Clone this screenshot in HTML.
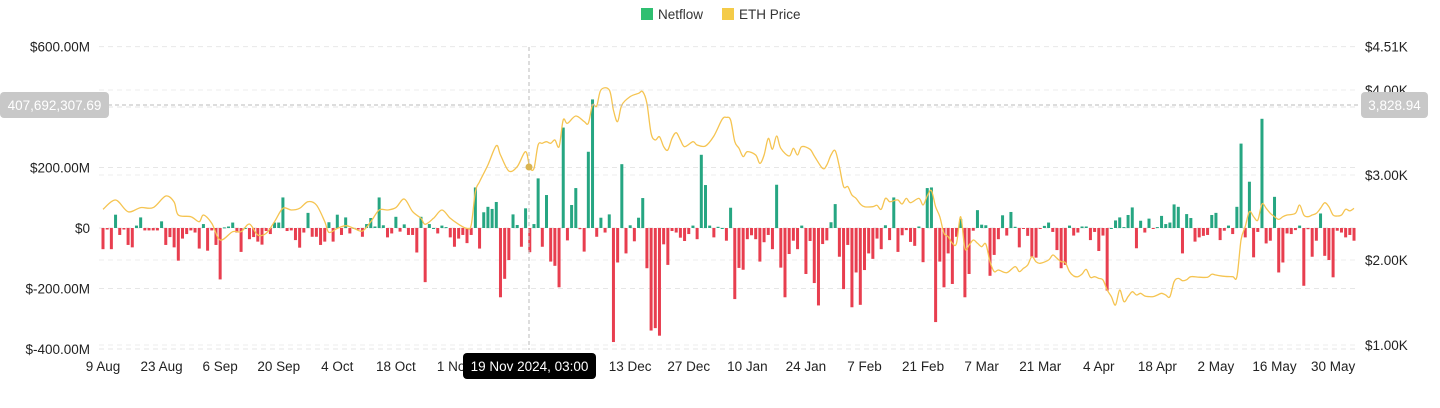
<!DOCTYPE html>
<html><head><meta charset="utf-8"><style>
html,body{margin:0;padding:0;background:#fff;width:1440px;height:408px;overflow:hidden}
svg{display:block;font-family:"Liberation Sans","DejaVu Sans",sans-serif}
</style></head><body>
<svg id="chart" width="1440" height="408">
 <g>
  <g><rect x="641" y="8" width="12" height="12" fill="#2fbf71"/><text x="658" y="19" font-size="13.5" fill="#333">Netflow</text></g>
  <g><rect x="722" y="8" width="12" height="12" fill="#f0b90b" opacity="0.75"/><text x="739" y="19" font-size="13.5" fill="#333">ETH Price</text></g>
 </g>
 <g id="grid"></g>
 <g id="yl"></g>
 <g id="yr"></g>
 <g id="bars"></g>
 <path id="line" fill="none" stroke="#f5c451" stroke-width="1.3"/>
 <g id="xa"></g>
 <g>
  <line x1="529" y1="47" x2="529" y2="350" stroke="#bbb" stroke-dasharray="4,3"/>
  <line x1="108" y1="105" x2="1360" y2="105" stroke="#bbb" stroke-dasharray="4,3"/>
  <circle cx="529" cy="167" r="3.5" fill="#d9b452"/>
  <rect x="0" y="92" width="109" height="26" rx="4" fill="#c8c8c8"/>
  <text x="54.5" y="110" font-size="13.5" fill="#fff" text-anchor="middle">407,692,307.69</text>
  <rect x="1361" y="92" width="67" height="26" rx="4" fill="#c8c8c8"/>
  <text x="1394.5" y="110" font-size="13.5" fill="#fff" text-anchor="middle">3,828.94</text>
  <rect x="463" y="353" width="133" height="26" rx="4" fill="#000"/>
  <text x="529.5" y="371" font-size="13.5" fill="#fff" text-anchor="middle">19 Nov 2024, 03:00</text>
 </g>
</svg>
<script>
const netflow=[-70,-5,-70,44,-23,-5,-56,-64,8,35,-8,-8,-8,-8,22,-56,-30,-64,-108,-35,-20,-8,-15,-68,13,-75,-8,-56,-170,2,5,18,-15,-79,0,-37,-30,-45,-55,-10,-20,18,18,101,-10,-8,-40,-65,-15,50,
-29,-29,-56,-45,19,-45,44,-23,35,-18,0,-5,-29,13,33,5,101,9,-31,-18,37,-12,12,-23,-23,-81,37,-179,13,0,-18,8,3,-31,-62,-35,-23,-50,-23,134,-68,52,70,63,86,-229,-168,-106,45,10,
-62,65,-80,13,164,-62,109,-111,-125,-196,332,-41,76,132,-4,-78,252,425,-29,34,-15,45,-377,-114,211,-84,9,-44,34,99,-133,-339,-331,-356,-54,-122,-10,-15,-32,-43,-20,8,-37,242,142,8,-31,4,0,-42,
67,-235,-132,-138,-37,-24,-37,-111,-47,-23,-70,143,-131,-229,-86,-42,-70,8,-152,-43,-182,-256,-53,-41,19,79,-95,-202,-56,-262,-147,-254,-139,-84,-102,-35,-70,9,-40,101,-79,-24,-7,-46,-59,5,-113,132,134,-311,
-111,-196,-84,-185,-29,30,-229,-152,-9,59,11,9,-158,-89,-37,42,-25,53,4,-64,-3,-26,-95,-98,-3,7,18,-13,-73,-133,-122,8,-25,-15,5,5,-40,-13,-76,-25,-207,0,25,35,3,43,68,-67,24,-15,
31,-3,3,40,13,18,78,70,-84,46,33,-45,-31,-26,-23,43,50,-40,-9,8,-20,70,279,-31,153,-97,-13,361,-51,-42,103,-147,-114,-18,-20,-7,8,-191,-4,-95,-42,48,-92,-106,-163,-9,-15,-31,-23,-42];
const priceDays=[0,3,6,9,12,15,17,18,21,23,24,26,28,31,33,35,37,39,41,43,45,47,49,51,53,54,56,58,60,62,64,66,68,70,72,74,76,77,79,81,83,85,87,88,89,90,92,94,95,97,99,101,102,103,104,105,106,107,108,109,110,111,113,115,116,117,118,119,121,122,123,124,126,128,129,130,131,132,133,134,135,136,137,138,139,141,142,144,146,148,149,150,151,152,153,154,156,157,158,159,160,161,162,164,165,166,167,169,170,172,173,174,175,176,177,178,179,180,181,182,184,185,186,187,188,189,190,191,192,193,195,196,197,198,199,200,201,202,203,204,205,206,207,208,209,210,211,212,213,214,216,218,219,220,221,222,223,224,226,227,228,229,230,231,232,233,234,235,236,237,238,239,240,241,242,243,244,245,246,247,248,249,250,251,252,253,254,255,256,257,258,259,260,262,264,265,266,268,270,271,272,273,274,275,276,277,278,279,280,281,282,283,285,286,287,288,289,290,291,292,293,294,295,296,297,298,299];
const priceValues=[2596,2706,2568,2616,2616,2753,2682,2529,2510,2451,2529,2431,2235,2333,2333,2423,2294,2314,2451,2608,2588,2608,2686,2647,2451,2325,2372,2404,2372,2341,2451,2588,2588,2616,2718,2569,2490,2420,2490,2588,2490,2420,2372,2411,2804,2922,3118,3345,3235,3047,3098,
3274,3090,3078,3353,3373,3392,3373,3412,3333,3647,3608,3694,3628,3608,3823,3812,4000,4000,3765,3628,3823,3922,3961,3980,3843,3490,3412,3451,3333,3294,3431,3498,3412,3333,3392,3353,3341,3459,3655,3678,3647,3392,3314,3216,3274,3235,3137,3235,3431,3302,3459,3314,3223,3314,3235,3333,3302,3223,3078,3118,3235,3286,3098,2863,2863,2765,2725,2659,2627,2627,2643,2596,2725,2686,2698,2706,2659,2725,2674,2725,2647,2753,2816,2627,2510,2314,2274,2196,2196,2510,2137,2176,2235,2196,2157,2188,1980,1863,1882,1851,1922,1863,1902,1941,2039,1980,1961,2000,2059,2020,1980,1969,1863,1812,1804,1835,1890,1796,1804,1784,1765,1647,1569,1471,1647,1510,1569,1627,1588,1608,1576,1569,1569,1588,1608,1588,1569,1745,1784,1757,1768,1804,1798,1798,1833,1823,1808,1804,1804,2235,2392,2568,2510,2470,2659,2608,2549,2510,2478,2510,2529,2549,2647,2529,2510,2529,2549,2608,2674,2627,2529,2518,2529,2596,2578,2608];
const leftTicks=[600,400,200,0,-200,-400];
const leftLabels=["$600.00M","","$200.00M","$0","$-200.00M","$-400.00M"];
const rightTicks=[4510,4000,3000,2000,1000];
const rightLabels=["$4.51K","$4.00K","$3.00K","$2.00K","$1.00K"];
const xTickDays=[0,14,28,42,56,70,84,98,112,126,140,154,168,182,196,210,224,238,252,266,280,294];
const xTickLabels=["9 Aug","23 Aug","6 Sep","20 Sep","4 Oct","18 Oct","1 Nov","15 Nov","29 Nov","13 Dec","27 Dec","10 Jan","24 Jan","7 Feb","21 Feb","7 Mar","21 Mar","4 Apr","18 Apr","2 May","16 May","30 May"];

const NS="http://www.w3.org/2000/svg";
const X=d=>103+4.184*d;
const YL=v=>228-v*0.3025;
const YR=p=>175-(p-3000)*0.085;
function mk(tag,attrs,parent){const e=document.createElementNS(NS,tag);for(const k in attrs)e.setAttribute(k,attrs[k]);parent.appendChild(e);return e;}
const grid=document.getElementById('grid'),yl=document.getElementById('yl'),yr=document.getElementById('yr');
leftTicks.forEach((t,i)=>{
  const y=YL(t);
  const g=mk('line',{x1:99,x2:1356,y1:y,y2:y,stroke:'#e6e6e6','stroke-dasharray':'5,4'},grid);
  
  
  if(leftLabels[i]){const tx=mk('text',{x:90,y:y+5,'font-size':13.5,fill:'#222','text-anchor':'end'},yl);tx.textContent=leftLabels[i];
  
  }
});
rightTicks.forEach((t,i)=>{
  const y=YR(t);
  const g=mk('line',{x1:99,x2:1356,y1:y,y2:y,stroke:'#ececec','stroke-dasharray':'5,4'},grid);
  
  
  const tx=mk('text',{x:1365,y:y+5,'font-size':13.5,fill:'#222'},yr);tx.textContent=rightLabels[i];
  
  
});
const bars=document.getElementById('bars');
netflow.forEach((v,d)=>{
  const y0=YL(0),y1=YL(v);
  const r=mk('rect',{x:X(d)-1.5,width:3,y:Math.min(y0,y1),height:Math.max(1,Math.abs(y1-y0)),fill:v>=0?'#26a682':'#e83e4f'},bars);
  
  
});
const pts=priceDays.map((d,i)=>[X(d),YR(priceValues[i])]);
let dstr='M'+pts[0][0].toFixed(1)+','+pts[0][1].toFixed(1);
for(let i=0;i<pts.length-1;i++){
  const p0=pts[Math.max(0,i-1)],p1=pts[i],p2=pts[i+1],p3=pts[Math.min(pts.length-1,i+2)];
  const c1=[p1[0]+(p2[0]-p0[0])/6,p1[1]+(p2[1]-p0[1])/6],c2=[p2[0]-(p3[0]-p1[0])/6,p2[1]-(p3[1]-p1[1])/6];
  dstr+='C'+c1.map(n=>n.toFixed(1))+' '+c2.map(n=>n.toFixed(1))+' '+p2.map(n=>n.toFixed(1));
}
document.getElementById('line').setAttribute('d',dstr);
const xa=document.getElementById('xa');
xTickDays.forEach((d,i)=>{
  const tx=mk('text',{x:X(d),y:371,'font-size':13.5,fill:'#222','text-anchor':'middle'},xa);tx.textContent=xTickLabels[i];
  
  
});
</script>
</body></html>
